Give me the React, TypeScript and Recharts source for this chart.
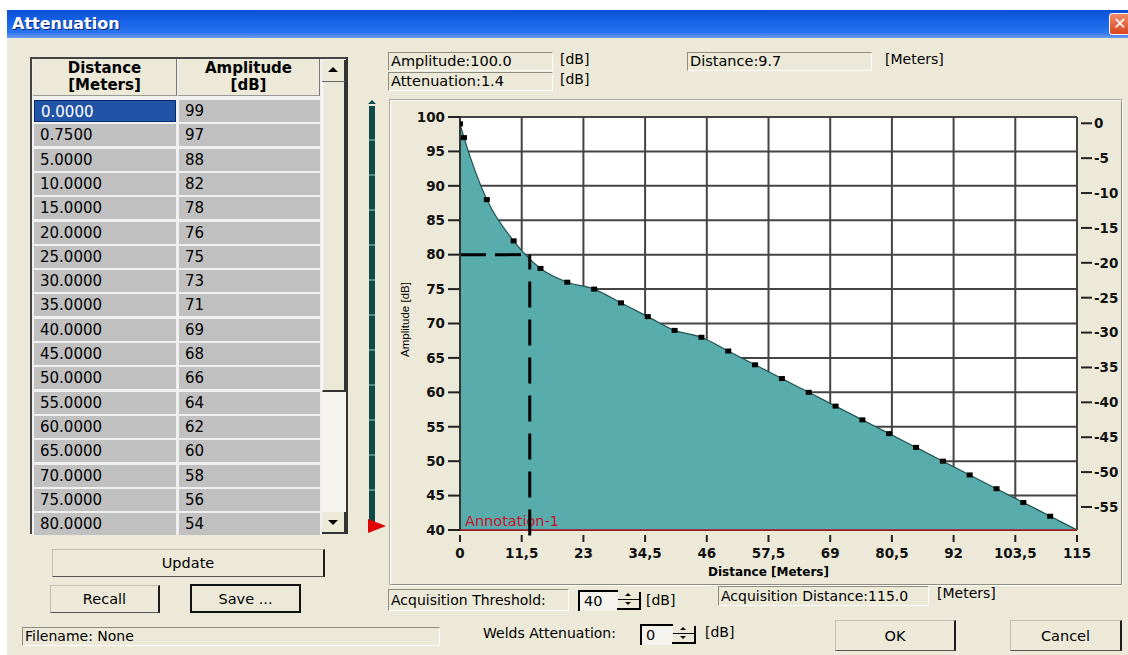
import React from 'react';
import { ComposedChart, Area, Line, XAxis, YAxis, CartesianGrid, ReferenceLine } from 'recharts';

// ---------- data ----------
const distances = [0, 0.75, 5, 10, 15, 20, 25, 30, 35, 40, 45, 50, 55, 60, 65, 70, 75, 80, 85, 90, 95, 100, 105, 110, 115];
const amplitudes = [99, 97, 88, 82, 78, 76, 75, 73, 71, 69, 68, 66, 64, 62, 60, 58, 56, 54, 52, 50, 48, 46, 44, 42, 40];
const xTicks = [0, 11.5, 23, 34.5, 46, 57.5, 69, 80.5, 92, 103.5, 115];
const yTicks = [40, 45, 50, 55, 60, 65, 70, 75, 80, 85, 90, 95, 100];
const rightTicks = [0, -5, -10, -15, -20, -25, -30, -35, -40, -45, -50, -55];
const xDomain = [0, 115];
const yDomain = [40, 100];
const rightDomain = [-58.3, 0.9];
const threshold = 40;
const cursorDistance = 13;
const cursorAmplitude = 80;
const visibleRows = 18;

const headerLabels = [['Distance', '[Meters]'], ['Amplitude', '[dB]']];
const amplitudeReadout = 'Amplitude:100.0';
const attenuationReadout = 'Attenuation:1.4';
const distanceReadout = 'Distance:9.7';
const thresholdValue = '40';
const weldsValue = '0';
const acquisitionDistance = 'Acquisition Distance:115.0';
const annotationText = 'Annotation-1';

const chartData = distances.map((d, i) => ({ d, amp: amplitudes[i], rel: amplitudes[i] - amplitudes[0] }));

// ---------- styles ----------
const UI = "'DejaVu Sans', 'Liberation Sans', sans-serif";
const BG = '#ECE9D8';
const TEAL = '#58ADAC';

const abs = (left: number, top: number, width: number, height: number): React.CSSProperties => ({
  position: 'absolute', left, top, width, height, boxSizing: 'border-box',
});

const sunken: React.CSSProperties = {
  borderTop: '1px solid #8e8b7f', borderLeft: '1px solid #8e8b7f',
  borderBottom: '1px solid #ffffff', borderRight: '1px solid #ffffff',
  background: BG,
};

const buttonStyle: React.CSSProperties = {
  borderTop: '1px solid #c2bfb1', borderLeft: '1px solid #c2bfb1',
  borderRight: '2px solid #1c1c1c', borderBottom: '1px solid #555',
  background: BG, display: 'flex', alignItems: 'center', justifyContent: 'center',
  fontFamily: UI, fontSize: 14.5, color: '#000',
};

const textStyle = (size = 14): React.CSSProperties => ({ fontFamily: UI, fontSize: size, color: '#000', whiteSpace: 'nowrap' });

// ---------- chart pieces ----------
const XTick = (props: any) => {
  const { x, y, payload } = props;
  return (
    <g>
      <line x1={x} x2={x} y1={y + 5} y2={y + 12} stroke="#222" strokeWidth={2} />
      <text x={x} y={y + 28} textAnchor="middle" fontFamily={UI} fontWeight="bold" fontSize={13.5} fill="#111">
        {String(payload.value).replace('.', ',')}
      </text>
    </g>
  );
};

const RightTick = (props: any) => {
  const { x, y, payload } = props;
  return (
    <g>
      <line x1={x + 4} x2={x + 15} y1={y} y2={y} stroke="#222" strokeWidth={2} />
      <text x={x + 17} y={y} dy="0.36em" textAnchor="start" fontFamily={UI} fontWeight="bold" fontSize={13.5} fill="#111">
        {payload.value}
      </text>
    </g>
  );
};

const renderDot = (props: any) => {
  const { cx, cy, index } = props;
  if (index === chartData.length - 1 || cx == null) return <g key={`dot-${index}`} />;
  return <rect key={`dot-${index}`} x={cx - 3} y={cy - 2.5} width={6} height={5} fill="#000" />;
};

const YTitle = (props: any) => {
  const vb = props.viewBox || {};
  const cx = vb.x + 15;
  const cy = vb.y + vb.height / 2 - 4;
  return (
    <text x={cx} y={cy} transform={`rotate(-90, ${cx}, ${cy})`} textAnchor="middle" dominantBaseline="central"
      fontFamily="'Liberation Sans', sans-serif" fontSize={11.5} fill="#000">Amplitude [dB]</text>
  );
};

const XTitle = (props: any) => {
  const vb = props.viewBox || {};
  return (
    <text x={vb.x + vb.width / 2} y={vb.y + 46} textAnchor="middle" fontFamily={UI} fontWeight="bold" fontSize={12} fill="#000">
      Distance [Meters]
    </text>
  );
};

const AnnotationLabel = (props: any) => {
  const vb = props.viewBox || {};
  return (
    <text x={vb.x + 5} y={vb.y - 4} fontFamily={UI} fontSize={14.5} fill="#c8102e">{annotationText}</text>
  );
};

const Chart = () => (
  <ComposedChart width={732} height={484} data={chartData} margin={{ top: 16, right: 0, bottom: 0, left: 0 }}>
    <CartesianGrid stroke="#444" strokeWidth={2} fill="#ffffff" />
    <XAxis dataKey="d" type="number" domain={xDomain} ticks={xTicks} interval={0} allowDataOverflow
      axisLine={false} tickLine={false} tickSize={0} tickMargin={0} height={55} tick={<XTick />}
      label={{ content: XTitle } as any} />
    <YAxis type="number" domain={yDomain} ticks={yTicks} interval={0} width={70} allowDataOverflow
      axisLine={{ stroke: '#333', strokeWidth: 2 }} tickLine={{ stroke: '#222', strokeWidth: 2 }} tickSize={12} tickMargin={3}
      tick={{ fill: '#111', fontFamily: UI, fontWeight: 'bold', fontSize: 13.5 }}
      label={{ content: YTitle } as any} />
    <YAxis yAxisId="right" orientation="right" type="number" domain={rightDomain} ticks={rightTicks} interval={0} width={45}
      allowDataOverflow axisLine={false} tickLine={false} tickSize={0} tickMargin={0} tick={<RightTick />} />
    <Area type="monotone" dataKey="amp" fill={TEAL} fillOpacity={1} stroke="#1f4f4f" strokeWidth={1.2}
      baseValue="dataMin" dot={renderDot} activeDot={false} isAnimationActive={false} />
    <Line yAxisId="right" dataKey="rel" stroke="#000" strokeOpacity={0} dot={false} activeDot={false}
      legendType="none" isAnimationActive={false} />
    <ReferenceLine y={threshold} stroke="#b0101c" strokeWidth={1.5} label={{ content: AnnotationLabel } as any} />
    <ReferenceLine segment={[{ x: xDomain[0], y: cursorAmplitude }, { x: cursorDistance, y: cursorAmplitude }]}
      stroke="#000" strokeWidth={3} strokeDasharray="26 9" ifOverflow="visible" />
    <ReferenceLine segment={[{ x: cursorDistance, y: threshold - 0.8 }, { x: cursorDistance, y: cursorAmplitude }]}
      stroke="#000" strokeWidth={3} strokeDasharray="26 12" ifOverflow="visible" />
  </ComposedChart>
);

// ---------- small widgets ----------
const Triangle = ({ dir, left, top, size = 4, color = '#000' }: any) => {
  const s: React.CSSProperties = { position: 'absolute', left, top, width: 0, height: 0 };
  if (dir === 'up') Object.assign(s, { borderLeft: `${size}px solid transparent`, borderRight: `${size}px solid transparent`, borderBottom: `${size}px solid ${color}` });
  if (dir === 'down') Object.assign(s, { borderLeft: `${size}px solid transparent`, borderRight: `${size}px solid transparent`, borderTop: `${size}px solid ${color}` });
  return <div style={s} />;
};

const Spinner = ({ left, top }: any) => (
  <div style={{ ...abs(left, top, 24, 20) }}>
    <Triangle dir="up" left={8} top={3} size={3} />
    <div style={{ position: 'absolute', left: 1, top: 9, width: 21, height: 1, background: '#000' }} />
    <Triangle dir="down" left={8} top={12} size={3} />
    <div style={{ position: 'absolute', right: 0, top: 2, width: 2, height: 18, background: '#000' }} />
    <div style={{ position: 'absolute', left: 0, bottom: 0, width: 24, height: 2, background: '#000' }} />
  </div>
);

const SpinBox = ({ left, top, width, value }: any) => (
  <div style={{ ...abs(left, top, width, 21), borderTop: '2px solid #000', borderLeft: '2px solid #000', background: '#f4f3ee', ...textStyle(14.5), paddingLeft: 4, lineHeight: '19px' }}>
    {value}
  </div>
);

const Table = () => {
  const rowH = 24.3;
  const top0 = 97;
  return (
    <div style={{ ...abs(30, 57, 318, 477), borderTop: '2px solid #444', borderLeft: '2px solid #444', borderRight: '2px solid #333', background: '#f0f0f0' }}>
      {headerLabels.map((h, i) => (
        <div key={i} style={{ ...abs(i === 0 ? 1 : 146, 0, i === 0 ? 144 : 142, 37), background: BG,
          borderRight: '1px solid #777', borderBottom: '1px solid #999', textAlign: 'center',
          fontFamily: UI, fontWeight: 'bold', fontSize: 15, lineHeight: '17px', paddingTop: 1, color: '#000' }}>
          <div>{h[0]}</div><div>{h[1]}</div>
        </div>
      ))}
      {distances.slice(0, visibleRows).map((d, i) => {
        const top = top0 - 57 + i * rowH;
        const sel = i === 0;
        return (
          <React.Fragment key={i}>
            <div style={{ ...abs(2, top + 1, 142, 22), background: sel ? '#2153A6' : '#c0c0c0',
              border: sel ? '1px solid #0b2a6b' : 'none', color: sel ? '#fff' : '#000',
              fontFamily: UI, fontSize: 15, lineHeight: '22px', paddingLeft: 6 }}>{d.toFixed(4)}</div>
            <div style={{ ...abs(147, top + 1, 141, 22), background: '#c0c0c0', color: '#000',
              fontFamily: UI, fontSize: 15, lineHeight: '22px', paddingLeft: 6 }}>{amplitudes[i]}</div>
          </React.Fragment>
        );
      })}
      <div style={{ ...abs(290, 0, 24, 475), background: '#f4f3ee' }}>
        <div style={{ ...abs(0, 1, 24, 22), background: BG, borderRight: '2px solid #333', borderBottom: '1px solid #666' }}>
          <Triangle dir="up" left={6} top={7} size={5} />
        </div>
        <div style={{ ...abs(0, 23, 24, 310), background: BG, borderRight: '2px solid #333', borderBottom: '2px solid #333', borderLeft: '1px solid #fff' }} />
        <div style={{ ...abs(0, 453, 24, 22), background: BG, borderRight: '2px solid #333', borderBottom: '2px solid #333' }}>
          <Triangle dir="down" left={6} top={8} size={5} />
        </div>
      </div>
    </div>
  );
};

export default function App() {
  return (
    <div style={{ position: 'absolute', left: 0, top: 0, width: 1128, height: 655, background: '#fff', overflow: 'hidden' }}>
      <div style={{ ...abs(7, 10, 1121, 645), background: BG }} />
      <div style={{ ...abs(7, 10, 1121, 28), background: 'linear-gradient(180deg, #0a4fd6 0%, #1662e6 40%, #2a74ee 80%, #6d9bf2 100%)' }}>
        <div style={{ position: 'absolute', left: 5, top: 4, fontFamily: UI, fontWeight: 'bold', fontSize: 16, color: '#fff', textShadow: '1px 1px 0 #0a2372' }}>
          Attenuation
        </div>
        <div style={{ ...abs(1102, 3, 22, 22), background: 'linear-gradient(180deg,#ef8c6a,#d9461f)', borderRadius: 3, border: '1px solid #fff',
          color: '#fff', fontFamily: UI, fontWeight: 'bold', fontSize: 16, lineHeight: '19px', textAlign: 'center' }}>✕</div>
      </div>

      <Table />

      <div style={{ ...abs(369, 106, 6, 422), background: 'repeating-linear-gradient(180deg, #0f4a4a 0px, #0f4a4a 33px, #4a8e8e 33px, #4a8e8e 35px)' }} />
      <Triangle dir="up" left={368} top={100} size={4} color="#0f4a4a" />
      <div style={{ position: 'absolute', left: 368, top: 519, width: 0, height: 0, borderTop: '7px solid transparent', borderBottom: '7px solid transparent', borderLeft: '18px solid #e00000' }} />

      <div style={{ ...abs(52, 549, 273, 28), ...buttonStyle }}>Update</div>
      <div style={{ ...abs(50, 585, 110, 28), ...buttonStyle }}>Recall</div>
      <div style={{ ...abs(190, 584, 111, 29), ...buttonStyle, border: '2px solid #111' }}>Save ...</div>
      <div style={{ ...abs(22, 627, 418, 19), ...sunken, ...textStyle(14), lineHeight: '17px', paddingLeft: 2 }}>Filename: None</div>

      <div style={{ ...abs(388, 52, 165, 19), ...sunken, ...textStyle(14.5), lineHeight: '17px', paddingLeft: 2 }}>{amplitudeReadout}</div>
      <div style={{ position: 'absolute', left: 560, top: 51, ...textStyle(14) }}>[dB]</div>
      <div style={{ ...abs(388, 72, 165, 19), ...sunken, ...textStyle(14.5), lineHeight: '17px', paddingLeft: 2 }}>{attenuationReadout}</div>
      <div style={{ position: 'absolute', left: 560, top: 71, ...textStyle(14) }}>[dB]</div>
      <div style={{ ...abs(687, 52, 185, 19), ...sunken, ...textStyle(14.5), lineHeight: '17px', paddingLeft: 2 }}>{distanceReadout}</div>
      <div style={{ position: 'absolute', left: 885, top: 51, ...textStyle(14) }}>[Meters]</div>

      <div style={{ ...abs(389, 99, 734, 487), borderTop: '1px solid #aca899', borderLeft: '1px solid #aca899', borderRight: '1px solid #fff', borderBottom: '1px solid #fff' }}>
        <div style={{ ...abs(0, 0, 732, 485), borderTop: '1px solid #fff', borderLeft: '1px solid #fff', borderRight: '1px solid #8e8b7f', borderBottom: '1px solid #8e8b7f' }} />
      </div>
      <div style={{ position: 'absolute', left: 390, top: 101 }}>
        <Chart />
      </div>

      <div style={{ ...abs(388, 589, 181, 22), ...sunken, ...textStyle(14), lineHeight: '20px', paddingLeft: 2 }}>Acquisition Threshold:</div>
      <SpinBox left={578} top={590} width={40} value={thresholdValue} />
      <Spinner left={617} top={590} />
      <div style={{ position: 'absolute', left: 646, top: 592, ...textStyle(14) }}>[dB]</div>
      <div style={{ ...abs(718, 586, 211, 20), ...sunken, ...textStyle(14), lineHeight: '18px', paddingLeft: 2 }}>{acquisitionDistance}</div>
      <div style={{ position: 'absolute', left: 937, top: 585, ...textStyle(14) }}>[Meters]</div>

      <div style={{ position: 'absolute', left: 483, top: 625, ...textStyle(14) }}>Welds Attenuation:</div>
      <SpinBox left={640} top={624} width={33} value={weldsValue} />
      <Spinner left={672} top={624} />
      <div style={{ position: 'absolute', left: 705, top: 624, ...textStyle(14) }}>[dB]</div>

      <div style={{ ...abs(835, 620, 121, 31), ...buttonStyle }}>OK</div>
      <div style={{ ...abs(1010, 620, 112, 31), ...buttonStyle }}>Cancel</div>
    </div>
  );
}
